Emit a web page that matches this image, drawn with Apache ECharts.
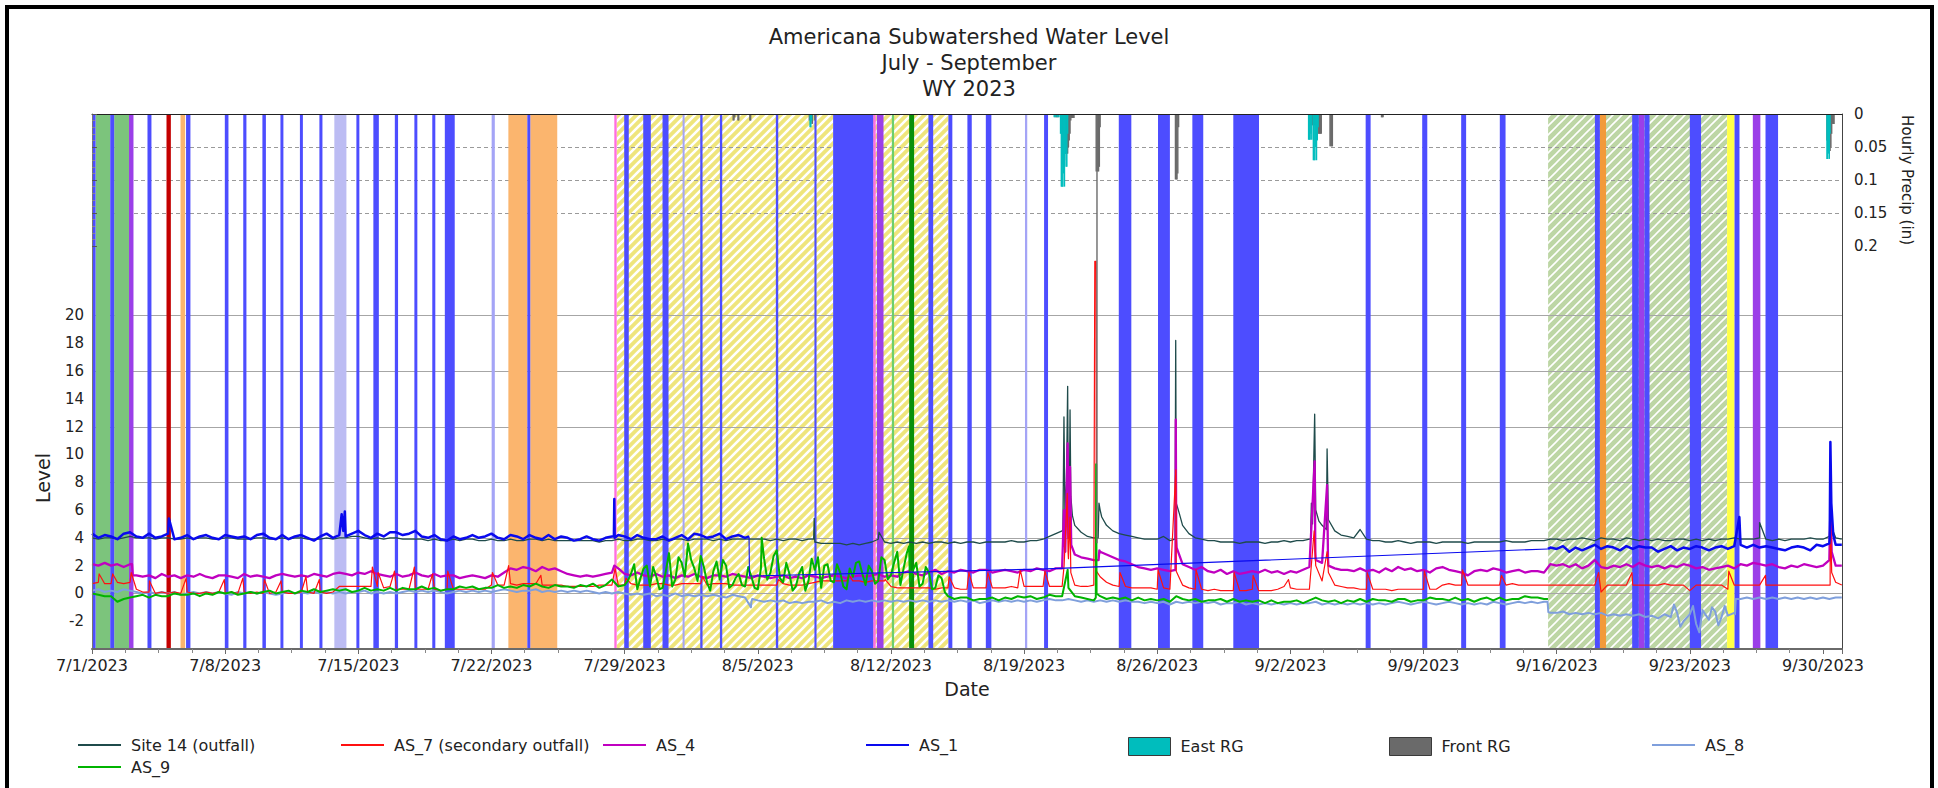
<!DOCTYPE html>
<html>
<head>
<meta charset="utf-8">
<script src="https://cdn.jsdelivr.net/npm/echarts@6/dist/echarts.min.js"></script>
<style>
  html, body { margin: 0; padding: 0; background: #fff; }
  #chart { width: 1938px; height: 788px; }
</style>
</head>
<body>
<div id="chart"></div>
<script>
// ---------------- text ----------------
const titleLines = ['Americana Subwatershed Water Level', 'July - September', 'WY 2023'];
const levelAxisName = 'Level';
const dateAxisName = 'Date';
const precipAxisName = 'Hourly Precip (in)';

// ---------------- axes ----------------
const PERIOD_START = '2023-07-01 00:00';
const PERIOD_DAYS = 92;
const WEEK_DAYS = 7;
const levelTickLabels = [-2, 0, 2, 4, 6, 8, 10, 12, 14, 16, 18, 20];
const levelGridValues = [0, 4, 8, 12, 16, 20];
const precipTickLabels = [0, 0.05, 0.1, 0.15, 0.2];
const precipGridValues = [0.05, 0.1, 0.15];

// ---------------- level series: one reading every 8 hours ----------------
const SITE14 = [
  4.0,3.9,4.0, 4.0,3.9,4.0, 4.1,4.0,4.0, 4.0,3.9,4.0, 4.0,3.9,3.9, 4.0,3.9,4.0, 4.0,3.9,3.9,
  4.0,4.0,3.9, 3.9,3.9,4.0, 4.0,3.9,3.9, 4.0,3.9,4.0, 4.0,3.9,3.9, 3.9,4.0,3.9, 4.0,4.0,4.1,
  4.1,4.0,3.9, 4.0,3.9,4.0, 4.0,3.9,3.9, 3.9,3.9,3.8, 3.9,3.8,3.8, 3.9,3.8,3.9, 3.9,3.8,3.8,
  3.9,3.8,3.8, 3.9,3.8,3.8, 3.9,3.9,3.8, 3.9,3.8,3.8, 3.8,3.8,3.8, 3.8,3.8,3.7, 3.8,3.8,3.9,
  3.8,3.8,3.9, 3.9,3.8,3.8, 3.9,3.8,3.9, 3.9,3.8,3.9, 3.9,3.9,3.8, 3.9,3.8,3.9, 3.9,3.9,3.9,
  3.9,3.9,3.8, 3.9,3.8,3.9, 3.9,3.8,3.9, 3.7,3.6,3.6, 3.6,3.6,3.5, 3.6,3.5,3.6, 3.7,3.9,3.7,
  3.6,3.7,3.6, 3.7,3.6,3.7, 3.6,3.7,3.7, 3.6,3.7,3.6, 3.7,3.7,3.6, 3.7,3.7,3.7, 3.7,3.8,3.7,
  3.7,3.8,3.8, 3.9,4.1,4.3, 4.5,6.0,4.9, 4.4,4.1,4.0, 6.0,4.9,4.5, 4.3,4.2,4.1, 4.0,3.9,3.9,
  3.9,4.1,3.8, 6.5,4.9,4.3, 4.0,3.9,3.8, 3.8,3.7,3.7, 3.7,3.6,3.7, 3.7,3.7,3.6, 3.7,3.7,3.8,
  3.7,3.8,3.8, 3.9,6.0,4.9, 5.3,4.5,4.2, 4.1,4.0,4.6, 3.9,3.8,3.8, 3.7,3.7,3.8, 3.7,3.6,3.7,
  3.7,3.7,3.6, 3.7,3.7,3.7, 3.7,3.6,3.7, 3.7,3.7,3.7, 3.7,3.8,3.7, 3.7,3.7,3.8, 3.8,3.8,3.9,
  3.9,3.8,3.9, 3.9,4.0,3.9, 3.8,4.0,3.9, 3.9,3.8,4.0, 3.9,3.8,3.9, 3.8,3.9,3.8, 3.8,3.9,3.9,
  3.8,3.9,3.8, 3.9,3.8,3.9, 3.9,4.0,3.9, 3.9,3.9,4.0, 3.9,3.8,3.9, 3.8,3.9,3.9, 3.9,4.0,3.9,
  3.9,4.1,4.0
];
const SITE14_EVENTS = [
  ['2023-08-07 22:30', 3.9], ['2023-08-07 23:15', 5.4], ['2023-08-11 09:00', 4.4],
  ['2023-08-21 01:00', 4.6], ['2023-08-21 02:20', 12.7], ['2023-08-21 03:30', 6.0], ['2023-08-21 05:30', 8.0],
  ['2023-08-21 07:00', 14.9], ['2023-08-21 07:40', 7.5], ['2023-08-21 09:20', 8.0], ['2023-08-21 10:00', 13.2],
  ['2023-08-21 11:00', 7.0], ['2023-08-21 13:00', 5.6],
  ['2023-08-22 21:30', 4.0], ['2023-08-22 22:30', 6.5], ['2023-08-23 02:00', 5.5],
  ['2023-08-26 22:30', 3.9], ['2023-08-26 23:20', 18.2], ['2023-08-27 03:40', 5.8],
  ['2023-09-03 01:30', 3.9], ['2023-09-03 02:30', 6.5], ['2023-09-03 04:00', 5.0], ['2023-09-03 05:30', 9.5],
  ['2023-09-03 06:40', 12.9], ['2023-09-03 12:00', 5.2], ['2023-09-03 21:30', 4.6], ['2023-09-03 22:20', 10.4],
  ['2023-09-26 16:00', 5.1], ['2023-09-30 10:00', 6.0], ['2023-09-30 12:00', 4.6], ['2023-09-30 23:45', 3.9]
];

const AS7 = [
  0.7,0.8,0.7, 0.7,0.8,0.7, 0.8,0.3,0.1, 0.1,0.0,0.1, 0.0,0.1,0.0, 0.1,0.0,0.0, 0.1,0.0,0.1,
  0.0,0.1,0.0, 0.1,0.0,0.1, 0.0,0.0,0.1, 0.1,0.0,0.0, 0.1,0.1,0.0, 0.1,0.0,0.1, 0.5,0.5,0.5,
  0.5,0.5,0.5, 0.5,0.4,0.5, 0.3,0.3,0.3, 0.3,0.3,0.3, 0.3,0.2,0.3, 0.3,0.3,0.3, 0.3,0.3,0.3,
  0.6,0.6,0.6, 0.7,0.6,0.7, 0.7,0.7,0.6, 0.6,0.6,0.6, 0.5,0.5,0.5, 0.5,0.5,0.6, 0.6,0.6,0.6,
  0.6,0.7,0.6, 0.6,0.6,0.7, 0.7,0.6,0.6, 0.7,0.7,0.7, 0.7,0.6,0.7, 0.7,0.7,0.6, 0.6,0.6,0.6,
  0.6,0.6,0.6, 0.6,0.7,0.6, 0.6,0.6,0.7, 0.8,0.9,0.9, 0.9,0.9,0.9, 0.9,0.9,0.8, 0.9,0.9,0.9,
  0.5,0.4,0.4, 0.4,0.4,0.4, 0.4,0.3,0.4, 0.4,0.4,0.3, 0.3,0.4,0.4, 0.4,0.4,0.4, 0.4,0.5,0.4,
  0.5,0.5,0.5, 0.5,0.5,0.5, 0.5,2.5,0.6, 0.5,0.5,0.6, 1.2,0.8,0.6, 0.5,0.5,0.4, 0.4,0.4,0.4,
  0.3,0.4,0.3, 1.6,0.6,0.4, 0.3,0.3,0.2, 0.3,0.2,0.2, 0.2,0.2,0.2, 0.3,0.2,0.2, 0.2,0.3,0.5,
  0.4,0.3,0.3, 0.3,2.0,0.9, 1.5,0.6,0.5, 0.4,0.4,0.3, 0.3,0.3,0.3, 0.3,0.2,0.3, 0.3,0.3,0.3,
  0.3,0.3,0.3, 0.6,0.7,0.6, 0.6,0.6,0.6, 0.6,0.6,0.6, 0.6,0.6,0.7, 0.6,0.6,0.6, 0.6,0.6,0.6,
  0.6,0.6,0.6, 0.6,0.6,0.6, 0.6,0.1,0.6, 0.6,0.6,0.6, 0.6,0.6,0.6, 0.6,0.6,0.7, 0.6,0.6,0.6,
  0.2,0.6,0.6, 0.6,0.6,0.6, 0.3,0.6,0.6, 0.6,0.6,0.6, 0.6,0.6,0.6, 0.6,0.6,0.6, 0.6,0.6,0.6,
  0.6,0.6,0.8
];
const AS7_EVENTS = [
  ['2023-07-01 09:00', 1.4], ['2023-07-02 02:10', 1.4], ['2023-07-03 01:30', 1.5], ['2023-07-04 00:30', 0.9],
  ['2023-07-05 22:50', 1.1], ['2023-07-07 23:00', 1.0], ['2023-07-08 22:20', 1.1], ['2023-07-10 01:30', 1.0],
  ['2023-07-10 22:30', 0.9], ['2023-07-12 06:00', 1.2], ['2023-07-12 22:50', 1.0], ['2023-07-15 17:45', 1.9],
  ['2023-07-16 01:00', 1.5], ['2023-07-16 21:40', 1.6], ['2023-07-17 22:50', 1.9], ['2023-07-18 21:40', 1.4],
  ['2023-07-19 16:50', 1.6], ['2023-07-22 01:10', 1.5], ['2023-07-22 21:40', 2.0], ['2023-07-24 14:20', 1.3],
  ['2023-07-28 12:00', 1.8], ['2023-07-29 01:40', 1.1], ['2023-08-02 02:20', 1.2], ['2023-08-06 02:20', 1.0],
  ['2023-08-09 19:10', 1.3], ['2023-08-11 16:50', 1.0], ['2023-08-15 01:30', 1.2], ['2023-08-16 02:20', 1.5],
  ['2023-08-17 02:20', 1.5], ['2023-08-18 19:10', 1.7], ['2023-08-20 02:20', 1.6],
  ['2023-08-21 02:30', 2.0], ['2023-08-21 06:30', 7.2], ['2023-08-21 07:30', 3.0], ['2023-08-21 10:00', 5.5], ['2023-08-21 11:00', 1.5],
  ['2023-08-22 16:45', 0.6], ['2023-08-22 17:15', 23.9], ['2023-08-22 18:45', 23.9], ['2023-08-22 19:15', 1.6],
  ['2023-08-24 01:00', 1.5], ['2023-08-26 01:00', 1.7], ['2023-08-26 23:30', 8.9], ['2023-08-28 01:00', 1.7],
  ['2023-08-30 01:00', 1.5], ['2023-08-31 01:00', 1.3], ['2023-09-01 21:40', 1.0],
  ['2023-09-03 06:00', 4.5], ['2023-09-03 22:20', 3.0],
  ['2023-09-06 01:00', 1.5], ['2023-09-09 01:00', 1.6], ['2023-09-11 01:00', 1.7], ['2023-09-13 02:20', 1.3],
  ['2023-09-18 04:50', 1.5], ['2023-09-19 23:00', 1.5], ['2023-09-25 01:10', 1.6], ['2023-09-26 23:30', 1.3],
  ['2023-09-30 09:00', 0.6], ['2023-09-30 09:20', 6.1], ['2023-09-30 11:00', 1.5], ['2023-09-30 23:45', 0.6]
];

const AS4 = [
  2.1,2.0,2.2, 2.0,2.1,1.9, 2.1,1.3,1.2, 1.3,1.1,1.4, 1.2,1.3,1.1, 1.3,1.2,1.4, 1.2,1.1,1.3,
  1.3,1.2,1.1, 1.4,1.2,1.3, 1.2,1.1,1.3, 1.4,1.3,1.2, 1.3,1.2,1.4, 1.3,1.2,1.4, 1.5,1.4,1.3,
  1.5,1.4,1.6, 1.4,1.3,1.2, 1.4,1.2,1.3, 1.5,1.3,1.2, 1.4,1.2,1.3, 1.3,1.1,1.2, 1.3,1.2,1.1,
  1.3,1.2,1.5, 1.8,1.7,1.9, 1.8,1.6,1.9, 1.7,1.8,1.6, 1.4,1.3,1.2, 1.3,1.2,1.3, 1.4,1.5,1.8,
  1.4,1.3,1.5, 1.3,1.2,1.4, 1.2,1.3,1.1, 1.3,1.2,1.4, 1.2,1.1,1.3, 1.3,1.2,1.4, 1.3,1.2,1.1,
  1.3,1.2,1.1, 1.2,1.3,1.1, 1.2,1.1,1.3, 1.2,1.1,1.2, 1.3,1.2,1.1, 1.2,1.3,1.2, 1.3,1.4,1.2,
  1.3,1.2,1.5, 1.6,1.4,1.3, 1.5,1.7,1.4, 1.6,1.5,1.7, 1.6,1.5,1.7, 1.7,1.5,1.6, 1.7,1.6,1.5,
  1.7,1.6,1.8, 1.7,1.6,1.8, 1.8,4.0,2.8, 2.6,2.5,2.4, 3.0,2.8,2.6, 2.4,2.3,2.1, 1.9,1.8,1.7,
  1.8,1.7,1.6, 4.0,2.1,1.9, 1.7,1.9,1.6, 1.5,1.7,1.4, 1.6,1.4,1.5, 1.6,1.5,1.7, 1.5,1.6,1.4,
  1.6,1.5,1.7, 1.9,2.4,2.2, 2.0,1.8,1.7, 1.7,1.6,1.8, 1.6,1.7,1.5, 1.8,1.6,1.9, 1.7,1.8,1.6,
  1.7,1.5,1.8, 1.9,1.7,1.6, 1.5,1.3,1.6, 1.7,1.6,1.8, 1.7,1.5,1.6, 1.7,1.5,1.6, 1.6,1.5,2.1,
  2.0,2.1,1.9, 2.1,1.8,2.0, 2.4,1.9,1.8, 2.0,1.9,2.1, 1.9,2.2,2.0, 1.9,2.0,1.8, 2.0,1.9,2.1,
  2.0,1.8,1.9, 1.7,1.8,1.9, 2.0,1.8,2.1, 2.0,2.2,2.1, 2.0,2.1,1.9, 1.8,2.0,1.9, 2.1,2.0,1.9,
  2.0,2.4,2.0
];
const AS4_EVENTS = [
  ['2023-07-03 02:30', 2.1], ['2023-07-03 03:30', 1.3], ['2023-07-28 11:00', 2.0],
  ['2023-08-21 02:20', 6.0], ['2023-08-21 04:00', 3.0], ['2023-08-21 07:00', 10.8], ['2023-08-21 10:00', 9.1], ['2023-08-21 11:30', 3.5],
  ['2023-08-22 22:00', 2.4], ['2023-08-22 23:00', 3.1],
  ['2023-08-26 23:00', 1.7], ['2023-08-26 23:25', 12.5], ['2023-08-27 00:30', 3.3],
  ['2023-09-03 06:40', 9.5], ['2023-09-03 07:30', 3.0], ['2023-09-03 22:20', 7.8], ['2023-09-03 23:30', 2.5],
  ['2023-09-30 09:30', 6.6], ['2023-09-30 11:00', 3.0], ['2023-09-30 23:45', 2.0]
];

// AS_1 reports until 8/4 and again from 9/15; the logger's sparse readings in between are joined by a plain line
const AS1_JUL_START = '2023-07-01 00:00';
const AS1_JUL = [
  4.3,4.0,4.2, 4.1,3.9,4.3, 4.4,4.1,4.0, 4.3,4.0,4.1, 4.3,3.9,4.0, 4.2,3.9,4.1, 4.2,4.0,3.9,
  4.2,4.1,4.0, 4.1,3.9,4.2, 4.3,4.0,3.9, 4.2,3.9,4.1, 4.2,4.0,3.8, 4.1,4.3,4.0, 4.2,4.1,4.3,
  4.5,4.2,4.0, 4.3,4.1,4.4, 4.4,4.2,4.3, 4.5,4.1,4.0, 4.2,3.9,3.8, 4.1,3.9,4.0, 4.2,4.0,4.1,
  4.3,4.0,3.9, 4.2,4.1,3.9, 4.2,4.0,3.9, 4.2,3.9,4.1, 4.0,3.8,3.9, 4.1,3.9,3.8, 4.0,4.1,4.2,
  4.1,3.9,4.2, 4.0,3.9,3.9, 4.1,3.8,4.0, 4.2,3.9,4.3, 4.2,4.0,4.1, 4.3,3.9,4.1, 4.2,4.0
];
const AS1_SEP_START = '2023-09-15 16:00';
const AS1_SEP = [
  3.3,
  3.2,3.4,3.0, 3.3,3.1,3.3, 3.5,3.2,3.4, 3.3,3.1,3.4, 3.2,3.4,3.3, 3.3,3.0,3.2, 3.4,3.1,3.3,
  3.2,3.4,3.3, 3.1,3.3,3.4, 3.2,3.4,3.5, 3.3,3.5,3.3, 3.4,3.3,3.2, 3.1,3.3,3.4, 3.3,3.1,3.5,
  3.4,3.6,3.5
];
const AS1_EVENTS = [
  ['2023-07-05 01:00', 5.4], ['2023-07-14 03:00', 5.7], ['2023-07-14 05:00', 4.5], ['2023-07-14 07:00', 5.9],
  ['2023-07-28 10:30', 4.1], ['2023-07-28 11:00', 6.8], ['2023-07-28 11:30', 4.0],
  ['2023-08-04 13:00', 4.1], ['2023-09-15 13:00', 3.2],
  ['2023-09-25 14:30', 5.5], ['2023-09-30 08:30', 4.0], ['2023-09-30 09:20', 10.9], ['2023-09-30 10:30', 6.5],
  ['2023-09-30 13:00', 4.2], ['2023-09-30 23:45', 3.5]
];
const AS1_SPARSE = [
  ['2023-08-04 13:00', 4.1], ['2023-08-04 13:30', 1.25], ['2023-08-19 20:00', 1.75], ['2023-09-15 13:00', 3.2]
];

const AS8 = [
  0.2,0.3,0.1, 0.2,0.1,0.3, 0.2,0.1,0.0, 0.1,0.0,0.1, 0.0,0.1,-0.1, 0.0,0.1,0.0, 0.1,0.0,0.1,
  0.0,-0.1,0.1, 0.0,0.1,0.0, 0.1,0.0,-0.1, 0.0,0.1,0.0, 0.1,0.0,0.1, 0.0,0.1,0.0, 0.1,0.0,0.1,
  0.1,0.2,0.0, 0.1,0.0,0.1, 0.0,0.1,0.2, 0.1,0.2,0.1, 0.2,0.1,0.0, 0.1,0.2,0.1, 0.2,0.1,0.2,
  0.1,0.2,0.3, 0.2,0.1,0.2, 0.2,0.3,0.1, 0.2,0.1,0.2, 0.1,0.2,0.1, 0.2,0.1,0.0, 0.1,0.0,0.1,
  0.0,-0.1,0.0, -0.1,0.0,-0.2, -0.1,-0.2,0.0, -0.2,-0.1,-0.2, -0.1,-0.2,-0.1, -0.2,-0.3,-0.1, -0.2,-0.3,-0.6,
  -0.5,-0.6,-0.5, -0.6,-0.5,-0.7, -0.6,-0.7,-0.6, -0.6,-0.5,-0.7, -0.6,-0.7,-0.5, -0.6,-0.5,-0.6, -0.5,-0.6,-0.5,
  -0.6,-0.5,-0.6, -0.5,-0.6,-0.5, -0.6,-0.5,-0.6, -0.5,-0.6,-0.5, -0.6,-0.5,-0.7, -0.6,-0.5,-0.6, -0.5,-0.6,-0.5,
  -0.6,-0.5,-0.6, -0.5,-0.4,-0.5, -0.5,-0.4,-0.5, -0.6,-0.5,-0.6, -0.5,-0.6,-0.5, -0.6,-0.5,-0.6, -0.6,-0.7,-0.6,
  -0.7,-0.6,-0.8, -0.6,-0.7,-0.6, -0.7,-0.6,-0.7, -0.6,-0.8,-0.7, -0.7,-0.6,-0.8, -0.7,-0.8,-0.7, -0.8,-0.7,-0.8,
  -0.7,-0.8,-0.7, -0.7,-0.6,-0.8, -0.7,-0.8,-0.7, -0.8,-0.7,-0.8, -0.7,-0.8,-0.7, -0.8,-0.7,-0.6, -0.7,-0.8,-0.7,
  -0.6,-0.7,-0.8, -0.7,-0.6,-0.7, -0.8,-0.7,-0.8, -0.7,-0.8,-0.6, -0.7,-0.8,-0.7, -0.6,-0.7,-0.6, -0.7,-0.6,-1.4,
  -1.4,-1.3,-1.5, -1.4,-1.5,-1.4, -1.5,-1.4,-1.6, -1.5,-1.6,-1.5, -1.6,-1.5,-1.7, -1.6,-1.8,-1.5, -1.7,-1.4,-2.0,
  -1.5,-2.2,-1.2, -1.9,-1.3,-1.7, -1.6,-1.4,-0.4, -0.3,-0.4,-0.3, -0.4,-0.3,-0.4, -0.3,-0.4,-0.3, -0.4,-0.3,-0.4,
  -0.3,-0.4,-0.3
];
const AS8_EVENTS = [
  ['2023-08-04 15:20', -1.0], ['2023-08-04 17:00', -0.4], ['2023-09-15 12:30', -0.6], ['2023-09-15 13:30', -1.35],
  ['2023-09-22 04:00', -0.8], ['2023-09-22 12:00', -2.4], ['2023-09-23 04:00', -0.9], ['2023-09-23 12:00', -2.8],
  ['2023-09-24 04:00', -1.0], ['2023-09-24 12:00', -2.3], ['2023-09-24 20:00', -0.9],
  ['2023-09-25 09:00', -1.5], ['2023-09-25 10:00', -0.4], ['2023-09-30 23:45', -0.3]
];

// AS_9 reports until 9/15; extra readings (offset by 4 h) through its unsettled stretch 7/29-8/14
const AS9 = [
  0.0,-0.1,-0.2, -0.2,-0.6,-0.4, -0.3,-0.2,-0.1, -0.3,-0.1,-0.2, -0.2,0.0,-0.1, -0.1,0.0,-0.2, 0.0,-0.1,0.1,
  0.0,0.1,-0.1, 0.0,0.1,0.0, 0.1,0.2,0.0, 0.1,0.2,0.0, 0.2,0.1,0.3, 0.1,0.2,0.3, 0.2,0.3,0.1,
  0.2,0.4,0.2, 0.3,0.2,0.4, 0.2,0.4,0.3, 0.3,0.5,0.3, 0.4,0.2,0.3, 0.3,0.5,0.4, 0.5,0.3,0.4,
  0.4,0.6,0.4, 0.5,0.4,0.6, 0.5,0.7,0.5, 0.4,0.6,0.5, 0.5,0.4,0.6, 0.5,0.7,0.4, 0.6,1.0,0.5,
  0.6,1.4,0.3, 1.8,0.5,1.2, 0.4,2.9,1.0, 2.2,3.6,1.8, 2.7,0.8,1.6, 1.0,2.0,0.6, 1.4,0.5,1.2,
  0.3,2.5,1.5, 3.1,0.8,1.4, 0.5,1.9,0.9, 1.7,0.4,2.1, 0.8,1.5,0.3, 1.2,2.3,0.6, 1.6,0.9,2.4,
  1.3,3.0,1.8, 0.9,2.2,0.7, 1.5,0.4,1.1, -0.2,-0.4,-0.3, -0.3,-0.5,-0.4, -0.4,-0.3,-0.5, -0.3,-0.4,-0.2,
  -0.3,-0.2,-0.4, -0.3,-0.1,-0.2, -0.2,0.4,-0.2, -0.3,-0.4,-0.5, -0.2,-0.4,-0.3, -0.4,-0.3,-0.5, -0.3,-0.5,-0.4,
  -0.5,-0.4,-0.6, -0.2,-0.4,-0.5, -0.4,-0.6,-0.5, -0.5,-0.4,-0.6, -0.4,-0.6,-0.5, -0.6,-0.5,-0.7, -0.5,-0.7,-0.6,
  -0.6,-0.5,-0.7, -0.5,-0.3,-0.5, -0.6,-0.5,-0.7, -0.5,-0.6,-0.4, -0.6,-0.4,-0.5, -0.5,-0.6,-0.4, -0.4,-0.6,-0.5,
  -0.5,-0.3,-0.4, -0.4,-0.5,-0.3, -0.5,-0.4,-0.6, -0.4,-0.3,-0.5, -0.3,-0.5,-0.4, -0.4,-0.2,-0.3, -0.3,-0.4
];
const AS9_MID_START = '2023-07-29 04:00';
const AS9_MID = [
  0.9,2.1,1.1, 2.0,1.9,0.3, 1.6,0.5,2.6, 1.2,2.4,0.9, 1.9,0.2,2.3, 2.4,0.4,1.1, 0.6,1.9,0.4,
  1.8,1.0,2.7, 1.1,2.2,0.2, 1.4,0.2,2.5, 2.6,2.0,0.9, 2.1,0.5,1.8, 2.2,1.4,2.0, 0.7,2.6,1.0,
  2.2,0.6,2.9, 1.7,0.5,1.9, 0.3,1.3,0.1
];
const AS9_EVENTS = [
  ['2023-08-05 05:00', 4.0], ['2023-08-12 23:00', 3.4], ['2023-08-21 07:00', 1.7],
  ['2023-08-22 18:30', -0.3], ['2023-08-22 19:00', 9.3], ['2023-08-22 19:30', 0.0], ['2023-09-15 13:00', -0.4]
];

// ---------------- hourly precipitation (in) ----------------
const FRONT_RG = [
  ['2023-08-03 17:00',0.01],['2023-08-03 18:00',0.01],['2023-08-03 19:00',0.005],['2023-08-03 23:00',0.01],['2023-08-04 00:00',0.01],
  ['2023-08-04 14:00',0.01],['2023-08-04 15:00',0.01],
  ['2023-08-07 17:00',0.01],['2023-08-07 19:00',0.015],['2023-08-07 21:00',0.015],['2023-08-08 00:00',0.01],
  ['2023-08-20 15:00',0.005],['2023-08-20 17:00',0.005],['2023-08-20 19:00',0.005],
  ['2023-08-21 00:00',0.06],['2023-08-21 01:00',0.076],['2023-08-21 02:00',0.076],['2023-08-21 03:00',0.07],
  ['2023-08-21 04:00',0.06],['2023-08-21 05:00',0.06],['2023-08-21 06:00',0.06],['2023-08-21 07:00',0.06],
  ['2023-08-21 08:00',0.05],['2023-08-21 09:00',0.04],['2023-08-21 10:00',0.03],['2023-08-21 11:00',0.01],
  ['2023-08-21 12:00',0.006],['2023-08-21 13:00',0.006],['2023-08-21 14:00',0.006],['2023-08-21 15:00',0.006],
  ['2023-08-22 19:00',0.087],['2023-08-22 20:00',0.65],['2023-08-22 21:00',0.087],['2023-08-22 22:00',0.087],
  ['2023-08-22 23:00',0.08],['2023-08-23 00:00',0.02],
  ['2023-08-26 23:00',0.099],['2023-08-27 00:00',0.099],['2023-08-27 01:00',0.099],['2023-08-27 02:00',0.09],['2023-08-27 03:00',0.02],
  ['2023-09-03 02:00',0.017],['2023-09-03 03:00',0.017],['2023-09-03 04:00',0.017],['2023-09-03 05:00',0.017],
  ['2023-09-03 06:00',0.017],['2023-09-03 07:00',0.017],['2023-09-03 08:00',0.017],
  ['2023-09-03 09:00',0.03],['2023-09-03 10:00',0.03],['2023-09-03 11:00',0.03],['2023-09-03 12:00',0.03],
  ['2023-09-03 13:00',0.03],['2023-09-03 14:00',0.03],['2023-09-03 15:00',0.03],
  ['2023-09-04 02:00',0.049],['2023-09-04 03:00',0.049],['2023-09-04 04:00',0.049],['2023-09-04 05:00',0.049],
  ['2023-09-06 19:00',0.005],['2023-09-06 20:00',0.005],['2023-09-06 21:00',0.005],
  ['2023-09-30 05:00',0.04],['2023-09-30 06:00',0.056],['2023-09-30 07:00',0.056],['2023-09-30 08:00',0.056],
  ['2023-09-30 09:00',0.056],['2023-09-30 10:00',0.05],['2023-09-30 11:00',0.03],['2023-09-30 12:00',0.015],
  ['2023-09-30 13:00',0.015],['2023-09-30 14:00',0.015]
];
const EAST_RG = [
  ['2023-08-07 18:00',0.02],['2023-08-07 19:00',0.02],['2023-08-07 20:00',0.01],
  ['2023-08-20 14:00',0.005],['2023-08-20 16:00',0.005],['2023-08-20 18:00',0.005],['2023-08-20 20:00',0.005],
  ['2023-08-20 22:00',0.03],['2023-08-20 23:00',0.11],['2023-08-21 00:00',0.11],['2023-08-21 01:00',0.11],
  ['2023-08-21 02:00',0.09],['2023-08-21 03:00',0.11],['2023-08-21 04:00',0.06],['2023-08-21 05:00',0.08],
  ['2023-08-21 06:00',0.08],['2023-08-21 07:00',0.03],
  ['2023-09-02 23:00',0.039],['2023-09-03 00:00',0.039],['2023-09-03 01:00',0.039],['2023-09-03 02:00',0.03],
  ['2023-09-03 03:00',0.039],['2023-09-03 05:00',0.07],['2023-09-03 06:00',0.07],['2023-09-03 07:00',0.07],
  ['2023-09-03 08:00',0.05],['2023-09-03 09:00',0.07],['2023-09-03 10:00',0.04],['2023-09-03 11:00',0.02],
  ['2023-09-30 05:00',0.068],['2023-09-30 06:00',0.068],['2023-09-30 07:00',0.06],['2023-09-30 08:00',0.068],['2023-09-30 09:00',0.03]
];

// ---------------- shaded periods ----------------
const blueBands = [
  ['2023-07-01 00:00','2023-07-01 04:30'], ['2023-07-01 23:00','2023-07-02 04:00'], ['2023-07-03 22:00','2023-07-04 03:00'],
  ['2023-07-05 22:40','2023-07-06 04:10'], ['2023-07-07 23:35','2023-07-08 04:10'], ['2023-07-08 22:50','2023-07-09 02:50'],
  ['2023-07-09 23:00','2023-07-10 03:25'], ['2023-07-10 21:45','2023-07-11 01:30'], ['2023-07-11 22:20','2023-07-12 02:05'],
  ['2023-07-12 22:55','2023-07-13 02:45'], ['2023-07-14 21:35','2023-07-15 01:20'], ['2023-07-15 19:00','2023-07-16 01:55'],
  ['2023-07-16 22:05','2023-07-17 02:10'], ['2023-07-17 22:45','2023-07-18 02:30'], ['2023-07-18 21:20','2023-07-19 01:10'],
  ['2023-07-19 13:10','2023-07-20 01:40'], ['2023-07-23 21:15','2023-07-24 01:00'], ['2023-07-28 23:30','2023-07-29 05:15'],
  ['2023-07-29 23:30','2023-07-30 09:05'], ['2023-07-30 23:50','2023-07-31 07:25'], ['2023-08-01 23:25','2023-08-02 02:20'],
  ['2023-08-03 00:15','2023-08-03 03:10'], ['2023-08-05 22:50','2023-08-06 01:50'], ['2023-08-07 23:30','2023-08-08 02:10'],
  ['2023-08-08 23:05','2023-08-11 01:40'], ['2023-08-13 23:20','2023-08-14 05:20'], ['2023-08-15 00:30','2023-08-15 05:30'],
  ['2023-08-16 00:30','2023-08-16 06:00'], ['2023-08-16 23:45','2023-08-17 06:45'], ['2023-08-20 01:15','2023-08-20 06:15'],
  ['2023-08-23 23:30','2023-08-24 15:20'], ['2023-08-26 01:00','2023-08-26 16:00'], ['2023-08-27 20:20','2023-08-28 10:05'],
  ['2023-08-30 00:00','2023-08-31 08:25'], ['2023-09-05 23:00','2023-09-06 05:15'], ['2023-09-08 22:20','2023-09-09 04:45'],
  ['2023-09-10 23:30','2023-09-11 05:45'], ['2023-09-13 00:15','2023-09-13 07:30'], ['2023-09-18 00:15','2023-09-18 06:30'],
  ['2023-09-19 23:15','2023-09-20 07:40'], ['2023-09-20 14:50','2023-09-20 21:10'], ['2023-09-23 00:00','2023-09-23 14:10'],
  ['2023-09-25 08:25','2023-09-25 14:40'], ['2023-09-26 23:30','2023-09-27 15:20']
];
const paleBlueBands = [['2023-07-22 00:15','2023-07-22 04:15'], ['2023-08-01 01:10','2023-08-01 03:40'], ['2023-08-19 01:10','2023-08-19 04:00']];
const lavenderBands = [['2023-07-13 17:45','2023-07-14 09:00']];
const greenBands = [['2023-07-01 04:30','2023-07-01 23:00'], ['2023-07-02 04:00','2023-07-02 22:40']];
const purpleBands = [['2023-07-02 22:40','2023-07-03 04:20'], ['2023-08-11 06:15','2023-08-11 14:40'],
                     ['2023-09-20 07:40','2023-09-20 14:50'], ['2023-09-26 07:30','2023-09-26 17:00']];
const darkRedBands = [['2023-07-04 22:00','2023-07-05 03:30']];
const orangeBands = [['2023-07-05 15:40','2023-07-05 21:30'], ['2023-07-22 21:20','2023-07-23 21:15'], ['2023-07-24 01:00','2023-07-25 11:00']];
const deepOrangeBands = [['2023-09-18 06:30','2023-09-18 14:20']];
const pinkBands = [['2023-07-28 11:00','2023-07-28 14:00'], ['2023-08-11 01:40','2023-08-11 04:50']];
const yellowBands = [['2023-09-24 23:00','2023-09-25 08:25']];
const lightGreenBands = [['2023-08-12 01:10','2023-08-12 04:00']];
const darkGreenBands = [['2023-08-12 23:00','2023-08-13 05:15']];
const yellowHatchBands = [['2023-07-28 14:00','2023-08-08 23:05'], ['2023-08-11 01:40','2023-08-15 00:30']];
const greenHatchBands = [['2023-09-15 13:10','2023-09-24 23:00']];

// ---------------- helpers ----------------
const FONT = 'DejaVu Sans, Verdana, sans-serif';
const DAY_MS = 86400000;
const ORIGIN = (() => { const [d] = PERIOD_START.split(' '); const [Y, M, D] = d.split('-').map(Number); return Date.UTC(Y, M - 1, D); })();
const STEP_DAYS = 8 / 24;

function dayOf(s) {
  const [d, t] = s.split(' ');
  const [Y, M, D] = d.split('-').map(Number);
  const [h, m] = (t || '00:00').split(':').map(Number);
  return (Date.UTC(Y, M - 1, D, h, m) - ORIGIN) / DAY_MS;
}
function labelOfDay(v) {
  const d = new Date(ORIGIN + v * DAY_MS);
  return (d.getUTCMonth() + 1) + '/' + d.getUTCDate() + '/' + d.getUTCFullYear();
}
// merge regular readings with event readings; `breaks` lists times where the trace has no data
function buildLine(segments, events, breaks) {
  const pts = [];
  segments.forEach(([start, vals]) => {
    const t0 = dayOf(start);
    vals.forEach((v, i) => { if (v != null) pts.push([t0 + i * STEP_DAYS, v]); });
  });
  (events || []).forEach(([s, v]) => pts.push([dayOf(s), v]));
  (breaks || []).forEach(s => pts.push([dayOf(s), null]));
  pts.sort((a, b) => a[0] - b[0]);
  return pts;
}
function hatch(base, stripe, size, width) {
  const c = document.createElement('canvas');
  c.width = size; c.height = size;
  const g = c.getContext('2d');
  g.fillStyle = base; g.fillRect(0, 0, size, size);
  g.strokeStyle = stripe; g.lineWidth = width; g.lineCap = 'square';
  g.beginPath();
  g.moveTo(-size / 2, size / 2); g.lineTo(size / 2, -size / 2);
  g.moveTo(0, size); g.lineTo(size, 0);
  g.moveTo(size / 2, size * 1.5); g.lineTo(size * 1.5, size / 2);
  g.stroke();
  return { image: c, repeat: 'repeat' };
}
function bandSeries(id, list, fill, z) {
  return {
    id, type: 'custom', z, silent: true, clip: true, animation: false,
    xAxisIndex: 0, yAxisIndex: 0,
    data: list.map(([s, e]) => [dayOf(s), dayOf(e)]),
    encode: { x: [0, 1] },
    renderItem(params, api) {
      const cs = params.coordSys;
      const x0 = api.coord([api.value(0), 0])[0];
      const x1 = api.coord([api.value(1), 0])[0];
      return { type: 'rect', shape: { x: x0, y: cs.y, width: Math.max(x1 - x0, 1), height: cs.height }, style: { fill } };
    }
  };
}
function gridLineSeries(id, values, yAxisIndex, style, z) {
  return {
    id, type: 'custom', z, silent: true, animation: false,
    xAxisIndex: 0, yAxisIndex,
    data: values.map(v => [0, v]),
    encode: { x: 0, y: 1 },
    renderItem(params, api) {
      const cs = params.coordSys;
      const y = Math.round(api.coord([0, api.value(1)])[1]) + 0.5;
      return { type: 'line', shape: { x1: cs.x, y1: y, x2: cs.x + cs.width, y2: y }, style };
    }
  };
}
function lineSeries(name, data, color, width, z) {
  return {
    name, type: 'line', data, xAxisIndex: 0, yAxisIndex: 0, z,
    showSymbol: false, symbol: 'none', animation: false, silent: true, connectNulls: false,
    lineStyle: { color, width, join: 'round' }, itemStyle: { color }
  };
}

// ---------------- chart ----------------
const chart = echarts.init(document.getElementById('chart'), null, { renderer: 'svg', width: 1938, height: 788 });

const yellowHatch = hatch('#efe57c', '#ffffff', 9, 2.6);
const greenHatch = hatch('#bdd6a5', '#ffffff', 9, 1.6);

const COLORS = {
  site14: '#1f4b4b', as7: '#ff1010', as4: '#c000c0', as1: '#0a0aee',
  east: '#00bdbd', front: '#6a6a6a', as8: '#7f9fdc', as9: '#00b400'
};

const series = [
  bandSeries('hatchYellow', yellowHatchBands, yellowHatch, 1),
  bandSeries('hatchGreen', greenHatchBands, greenHatch, 1),
  gridLineSeries('levelGrid', levelGridValues, 0, { stroke: '#a6a6a6', lineWidth: 1 }, 2),
  gridLineSeries('precipGrid', precipGridValues, 1, { stroke: '#9a9a9a', lineWidth: 1, lineDash: [4, 3] }, 2),
  bandSeries('bandGreen', greenBands, '#7cc47c', 3),
  bandSeries('bandLavender', lavenderBands, '#bcbcf3', 3),
  bandSeries('bandPaleBlue', paleBlueBands, '#a4a4f6', 3),
  bandSeries('bandOrange', orangeBands, '#fbb56e', 3),
  bandSeries('bandDeepOrange', deepOrangeBands, '#f29a3a', 3),
  bandSeries('bandDarkRed', darkRedBands, '#c40000', 3),
  bandSeries('bandPink', pinkBands, '#ff6fe0', 3),
  bandSeries('bandYellow', yellowBands, '#ffff48', 3),
  bandSeries('bandLightGreen', lightGreenBands, '#6ccf6c', 3),
  bandSeries('bandDarkGreen', darkGreenBands, '#0a900a', 3),
  bandSeries('bandPurple', purpleBands, '#9b3fe8', 3),
  bandSeries('bandBlue', blueBands, '#4d4dff', 3),
  lineSeries('AS_8', buildLine([[PERIOD_START, AS8]], AS8_EVENTS), COLORS.as8, 2.0, 5),
  lineSeries('Site 14 (outfall)', buildLine([[PERIOD_START, SITE14]], SITE14_EVENTS), COLORS.site14, 1.3, 6),
  lineSeries('AS_4', buildLine([[PERIOD_START, AS4]], AS4_EVENTS), COLORS.as4, 2.3, 6),
  lineSeries('AS_7 (secondary outfall)', buildLine([[PERIOD_START, AS7]], AS7_EVENTS), COLORS.as7, 1.2, 6),
  lineSeries('AS_9', buildLine([[PERIOD_START, AS9], [AS9_MID_START, AS9_MID]], AS9_EVENTS), COLORS.as9, 2.0, 6),
  lineSeries('AS_1', buildLine([[AS1_JUL_START, AS1_JUL], [AS1_SEP_START, AS1_SEP]], AS1_EVENTS, ['2023-08-25 00:00']), COLORS.as1, 2.5, 7),
  lineSeries('AS_1', buildLine([], AS1_SPARSE), COLORS.as1, 1.1, 7),
  {
    name: 'Front RG', type: 'bar', xAxisIndex: 0, yAxisIndex: 1, z: 8, animation: false, silent: true,
    data: FRONT_RG.map(([s, v]) => [dayOf(s), v]), barWidth: 1.4, barGap: '-100%',
    itemStyle: { color: COLORS.front }
  },
  {
    name: 'East RG', type: 'bar', xAxisIndex: 0, yAxisIndex: 1, z: 9, animation: false, silent: true,
    data: EAST_RG.map(([s, v]) => [dayOf(s), v]), barWidth: 1.4, barGap: '-100%',
    itemStyle: { color: COLORS.east }
  }
];

// legend entries laid out in fixed columns
const legendEntries = [
  { name: 'Site 14 (outfall)', kind: 'line', col: 0, row: 0 },
  { name: 'AS_7 (secondary outfall)', kind: 'line', col: 1, row: 0 },
  { name: 'AS_4', kind: 'line', col: 2, row: 0 },
  { name: 'AS_1', kind: 'line', col: 3, row: 0 },
  { name: 'East RG', kind: 'box', col: 4, row: 0 },
  { name: 'Front RG', kind: 'box', col: 5, row: 0 },
  { name: 'AS_8', kind: 'line', col: 6, row: 0 },
  { name: 'AS_9', kind: 'line', col: 0, row: 1 }
];
const legendColLeft = [78, 341, 603, 866, 1128, 1389, 1652];
const legendRowTop = [737, 759];
const legends = legendEntries.map(e => ({
  data: [{ name: e.name, icon: 'rect' }],
  left: legendColLeft[e.col], top: legendRowTop[e.row], padding: 0,
  orient: 'horizontal', selectedMode: false,
  itemWidth: e.kind === 'box' ? 42 : 43,
  itemHeight: e.kind === 'box' ? 18 : 2,
  itemStyle: e.kind === 'box' ? { borderColor: '#3a3a3a', borderWidth: 1 } : {},
  textStyle: { fontSize: 16, fontFamily: FONT, color: '#222', padding: [0, 0, 0, 5] }
}));

const option = {
  backgroundColor: '#ffffff',
  animation: false,
  title: {
    text: titleLines.join('\n'), left: 'center', top: 19,
    textStyle: { fontSize: 21, fontWeight: 'normal', fontFamily: FONT, color: '#222', lineHeight: 26 }
  },
  legend: legends,
  grid: [
    { left: 92, right: 96, top: 114, bottom: 139, show: false },
    { left: 92, right: 96, top: 114, height: 132.1, show: false }
  ],
  xAxis: [
    {
      type: 'value', gridIndex: 0, min: 0, max: PERIOD_DAYS, interval: WEEK_DAYS, position: 'bottom', z: 10,
      axisLine: { show: true, onZero: false, lineStyle: { color: '#6a6a6a', width: 2 } },
      axisTick: { show: true, length: 5, lineStyle: { color: '#6a6a6a' } },
      minorTick: { show: true, splitNumber: 4, length: 4, lineStyle: { color: '#888' } },
      splitLine: { show: false },
      axisLabel: {
        formatter: v => (v % WEEK_DAYS === 0 && v < PERIOD_DAYS) ? labelOfDay(v) : '',
        fontSize: 16, fontFamily: FONT, color: '#222', margin: 8
      },
      name: dateAxisName, nameLocation: 'middle', nameGap: 30,
      nameTextStyle: { fontSize: 19, fontFamily: FONT, color: '#222' }
    },
    { type: 'value', gridIndex: 1, min: 0, max: PERIOD_DAYS, show: false },
    {
      type: 'value', gridIndex: 0, min: 0, max: PERIOD_DAYS, position: 'top', z: 10,
      axisLine: { show: true, onZero: false, lineStyle: { color: '#222', width: 1 } },
      axisTick: { show: false }, axisLabel: { show: false }, splitLine: { show: false }
    }
  ],
  yAxis: [
    {
      type: 'value', gridIndex: 0, min: -4, max: 34.5, interval: 2, position: 'left', z: 10,
      axisLine: { show: true, onZero: false, lineStyle: { color: '#777' } },
      axisTick: { show: false }, splitLine: { show: false },
      axisLabel: {
        formatter: v => levelTickLabels.includes(v) ? String(v) : '',
        fontSize: 15, fontFamily: FONT, color: '#222', margin: 8
      }
    },
    {
      type: 'value', gridIndex: 0, min: 0, max: 0.81, inverse: true, position: 'right', z: 10,
      axisLine: { show: true, onZero: false, lineStyle: { color: '#444' } },
      axisTick: { show: false }, axisLabel: { show: false }, splitLine: { show: false }
    },
    {
      type: 'value', gridIndex: 1, min: 0, max: 0.2, interval: 0.05, inverse: true, position: 'right', z: 10,
      axisLine: { show: false },
      axisTick: { show: true, length: 5, lineStyle: { color: '#555' } },
      minorTick: { show: true, splitNumber: 5, length: 3, lineStyle: { color: '#888' } },
      splitLine: { show: false },
      axisLabel: {
        formatter: v => precipTickLabels.some(p => Math.abs(p - v) < 1e-9) ? String(+v.toFixed(2)) : '',
        fontSize: 15, fontFamily: FONT, color: '#222', margin: 12
      },
      name: precipAxisName, nameLocation: 'middle', nameRotate: -90, nameGap: 57,
      nameTextStyle: { fontSize: 15, fontFamily: FONT, color: '#222' }
    }
  ],
  graphic: [
    {
      type: 'rect', silent: true, z: 100,
      shape: { x: 7, y: 7, width: 1925, height: 800 },
      style: { fill: 'none', stroke: '#000', lineWidth: 4 }
    },
    {
      type: 'text', silent: true, x: 43, y: 478, rotation: Math.PI / 2,
      style: { text: levelAxisName, fontSize: 19, fontFamily: FONT, fill: '#222', align: 'center', verticalAlign: 'middle' }
    }
  ],
  series
};

chart.setOption(option);
</script>
</body>
</html>
